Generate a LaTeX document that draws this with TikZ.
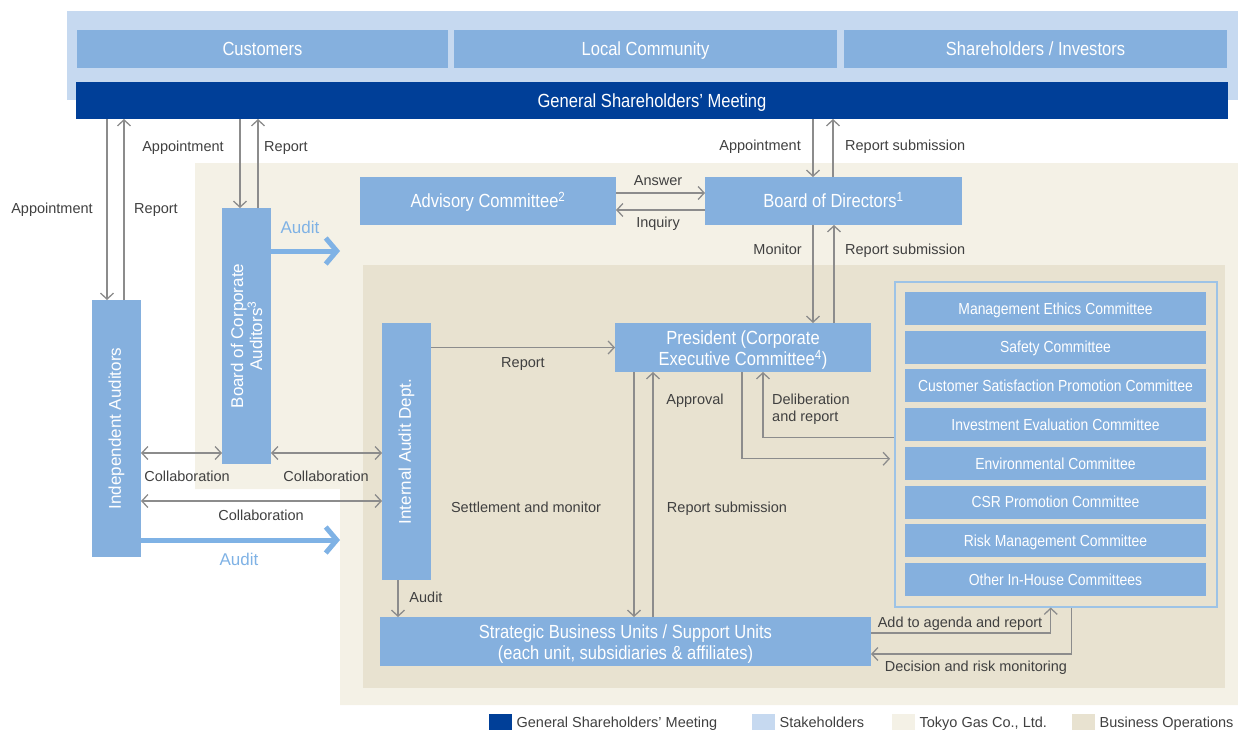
\documentclass[tikz,border=0pt]{standalone}
\usepackage{fontspec}
\setmainfont{Liberation Sans}
\newfontfamily\condfont[FakeStretch=0.87]{Liberation Sans}
\usetikzlibrary{arrows.meta, positioning}

\definecolor{gsmblue}{HTML}{003F98}
\definecolor{boxblue}{HTML}{85B0DE}
\definecolor{stakeblue}{HTML}{C6D9F0}
\definecolor{gascream}{HTML}{F4F1E6}
\definecolor{bizbeige}{HTML}{E8E2D0}
\definecolor{arrowgray}{HTML}{8C8C8C}
\definecolor{labelgray}{HTML}{404040}
\definecolor{auditblue}{HTML}{7FB2E5}
\definecolor{frameblue}{HTML}{9DC3E6}

\begin{document}
\begin{tikzpicture}[x=1pt, y=-1pt, >={Straight Barb[length=6pt, width=13pt]}]

\tikzstyle{block2} = [fill=boxblue, text=white, anchor=north west, inner sep=0pt, outer sep=0pt, align=center, font=\condfont\fontsize{19}{21}\selectfont]
\tikzstyle{block} = [block2, text height=16pt, text depth=2.5pt]
\tikzstyle{cblock} = [block2, minimum width=301, minimum height=33, text height=14pt, text depth=2.5pt, font=\condfont\fontsize{16}{18}\selectfont]
\tikzstyle{vblock} = [fill=boxblue, text=white, rotate=90, inner sep=0pt, outer sep=0pt, align=center, minimum width=257, minimum height=49, font=\fontsize{17}{19}\selectfont]
\tikzstyle{lbl} = [text=labelgray, inner sep=0pt, yshift=-1.5pt, text height=10.5pt, text depth=3pt, font=\fontsize{14.5}{17}\selectfont]
\tikzstyle{lbl2} = [text=labelgray, inner sep=0pt, font=\fontsize{14.5}{17}\selectfont]
\tikzstyle{arr} = [draw=arrowgray, line width=1.3pt]
\tikzstyle{auditarr} = [draw=auditblue, line width=5pt, -{Straight Barb[length=11pt, width=26pt]}]
\tikzstyle{auditlbl} = [text=auditblue, inner sep=0pt, yshift=-1.5pt, text height=12.5pt, text depth=3pt, font=\fontsize{17}{19}\selectfont]
\tikzstyle{legendbox} = [anchor=north west, minimum width=23, minimum height=16, inner sep=0pt]

\useasboundingbox (0,0) rectangle (1238,731);

%Background Areas
\fill[stakeblue] (67,11) rectangle (1238,100);
\fill[gascream] (195,163) -- (1238,163) -- (1238,705) -- (340,705) -- (340,489) -- (195,489) -- cycle;
\fill[bizbeige] (363,265) rectangle (1225,688);

%Creating Blocks
\node[block, minimum width=371, minimum height=38] (cust) at (77,30) {Customers};
\node[block, minimum width=383, minimum height=38] (comm) at (454,30) {Local Community};
\node[block, minimum width=383, minimum height=38] (share) at (844,30) {Shareholders / Investors};
\node[block, fill=gsmblue, minimum width=1152, minimum height=37] (gsm) at (76,82) {General Shareholders’ Meeting};

\node[block, minimum width=256, minimum height=48] (adv) at (360,177) {Advisory Committee\textsuperscript{2}};
\node[block, minimum width=257, minimum height=48] (bod) at (705,177) {Board of Directors\textsuperscript{1}};
\node[block2, minimum width=256, minimum height=49] (pres) at (615,323) {\rule{0pt}{19pt}President (Corporate\\Executive Committee\textsuperscript{4})};
\node[block2, minimum width=491, minimum height=49] (sbu) at (380,617) {\rule{0pt}{19pt}Strategic Business Units / Support Units\\(each unit, subsidiaries \& affiliates)};

\node[vblock, minimum width=256] (bca) at (246.5,336) {Board of Corporate\\Auditors\textsuperscript{3}};
\node[vblock] (ia) at (116.5,428.5) {Independent Auditors};
\node[vblock] (iad) at (406.5,451.5) {Internal Audit Dept.};

%Committees
\node[draw=frameblue, line width=1.5pt, anchor=north west, minimum width=322, minimum height=325, inner sep=0pt] (cmte) at (894,281) {};
\foreach \name [count=\i from 0] in {Management Ethics Committee, Safety Committee, Customer Satisfaction Promotion Committee, Investment Evaluation Committee, Environmental Committee, CSR Promotion Committee, Risk Management Committee, Other In-House Committees}
  \node[cblock] (c\i) at (905,{292+38.7*\i}) {\name};

%Connecting Blocks
\draw[arr, ->] ([xshift=-9.5pt]ia.east |- gsm.south) -- ([xshift=-9.5pt]ia.east);
\draw[arr, ->] ([xshift=7.5pt]ia.east) -- ([xshift=7.5pt]ia.east |- gsm.south);
\node[lbl] at (52,208) {Appointment};
\node[lbl] at (156,208) {Report};

\draw[arr, ->] ([xshift=-6.5pt]bca.east |- gsm.south) -- ([xshift=-6.5pt]bca.east);
\draw[arr, ->] ([xshift=11.5pt]bca.east) -- ([xshift=11.5pt]bca.east |- gsm.south);
\node[lbl] at (183,146) {Appointment};
\node[lbl] at (286,146) {Report};

\draw[arr, ->] ([xshift=-20.5pt]bod.north |- gsm.south) -- ([xshift=-20.5pt]bod.north);
\draw[arr, ->] ([xshift=-0.5pt]bod.north) -- ([xshift=-0.5pt]bod.north |- gsm.south);
\node[lbl, anchor=east] at (801,145) {Appointment};
\node[lbl, anchor=west] at (845,145) {Report submission};

\draw[arr, ->] ([xshift=-20.5pt]bod.south) -- ([xshift=-20.5pt]bod.south |- pres.north);
\draw[arr, ->] ([xshift=0.5pt]bod.south |- pres.north) -- ([xshift=0.5pt]bod.south);
\node[lbl, anchor=east] at (802,249) {Monitor};
\node[lbl, anchor=west] at (845,249) {Report submission};

\draw[arr, ->] ([yshift=8pt]adv.east) -- ([yshift=8pt]adv.east -| bod.west);
\draw[arr, ->] ([yshift=-9pt]bod.west) -- ([yshift=-9pt]bod.west -| adv.east);
\node[lbl] at (658,180) {Answer};
\node[lbl] at (658,222) {Inquiry};

\coordinate (aud1) at (340,251);
\coordinate (aud2) at (340,540);
\draw[auditarr] (bca.south |- aud1) -- (aud1);
\draw[auditarr] (ia.south |- aud2) -- (aud2);
\node[auditlbl] at (300,227) {Audit};
\node[auditlbl] at (239,559) {Audit};

\draw[arr, <->] ([yshift=-24.5pt]ia.south) -- ([yshift=-24.5pt]ia.south -| bca.north);
\draw[arr, <->] ([yshift=-24.5pt]ia.south -| bca.south) -- ([yshift=-24.5pt]ia.south -| iad.north);
\draw[arr, <->] ([yshift=-72.5pt]ia.south) -- ([yshift=-72.5pt]ia.south -| iad.north);
\node[lbl] at (187,476) {Collaboration};
\node[lbl] at (326,476) {Collaboration};
\node[lbl] at (261,515) {Collaboration};

\draw[arr, ->] (iad.south |- pres.west) -- (pres.west);
\node[lbl] at (523,362) {Report};

\draw[arr, ->] ([xshift=-109pt]pres.south) -- ([xshift=-109pt]pres.south |- sbu.north);
\draw[arr, ->] ([xshift=-90pt]pres.south |- sbu.north) -- ([xshift=-90pt]pres.south);
\node[lbl] at (526,507) {Settlement and monitor};
\node[lbl] at (695,399) {Approval};
\node[lbl] at (727,507) {Report submission};

\draw[arr, ->] ([yshift=6.5pt]cmte.west) -| ([xshift=20pt]pres.south);
\draw[arr, ->] ([xshift=-1pt]pres.south) |- ([yshift=-14.5pt, xshift=-4pt]cmte.west);
\node[lbl2, anchor=west, align=left] at (772,409) {Deliberation\\and report};

\draw[arr, ->] ([yshift=8.5pt]sbu.east) -| ([xshift=-5pt]cmte.south);
\draw[arr, ->] ([xshift=16pt]cmte.south) |- ([yshift=-12.5pt]sbu.east);
\node[lbl] at (960,622) {Add to agenda and report};
\node[lbl] at (976,666) {Decision and risk monitoring};

\draw[arr, ->] ([xshift=-8.5pt]iad.west) -- ([xshift=-8.5pt]iad.west |- sbu.north);
\node[lbl] at (426,597) {Audit};

%Legend
\node[legendbox, fill=gsmblue] (lg1) at (489,714) {};
\node[lbl, right=4pt of lg1] {General Shareholders’ Meeting};
\node[legendbox, fill=stakeblue] (lg2) at (752,714) {};
\node[lbl, right=4pt of lg2] {Stakeholders};
\node[legendbox, fill=gascream] (lg3) at (892,714) {};
\node[lbl, right=4pt of lg3] {Tokyo Gas Co., Ltd.};
\node[legendbox, fill=bizbeige] (lg4) at (1072,714) {};
\node[lbl, right=4pt of lg4] {Business Operations};
\end{tikzpicture}
\end{document}
